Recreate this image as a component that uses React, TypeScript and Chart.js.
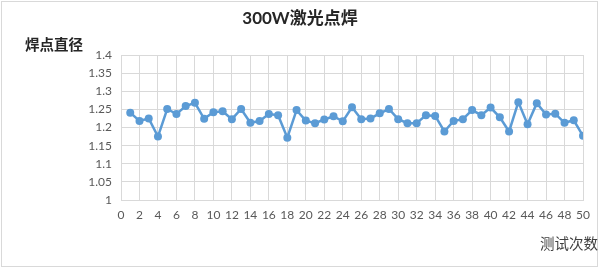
import React, { useEffect, useRef } from "react";
import { Chart, registerables } from "chart.js";

Chart.register(...registerables);

const chartTitle = "300W激光点焊";
const yAxisTitle = "焊点直径";
const xAxisTitle = "测试次数";

const diameters = [
  1.241, 1.218, 1.225, 1.175, 1.251, 1.237, 1.259, 1.268, 1.224, 1.242,
  1.245, 1.223, 1.251, 1.213, 1.218, 1.237, 1.234, 1.172, 1.248, 1.219,
  1.212, 1.222, 1.231, 1.217, 1.256, 1.223, 1.225, 1.239, 1.251, 1.223,
  1.212, 1.212, 1.234, 1.232, 1.189, 1.218, 1.223, 1.248, 1.234, 1.255,
  1.228, 1.189, 1.270, 1.209, 1.267, 1.236, 1.238, 1.213, 1.220, 1.177,
];
const testNumbers = diameters.map((_, i) => i + 1);

const xMin = 0;
const xMax = 50;
const xStep = 2;
const yMin = 1;
const yMax = 1.4;
const yStep = 0.05;

const FONT_LATIN = "Lato, 'Noto Sans', sans-serif";
const FONT_CJK = "'Noto Sans CJK SC', 'Noto Sans', sans-serif";

export default function App() {
  const ref = useRef<HTMLCanvasElement | null>(null);

  useEffect(() => {
    document.body.style.margin = "0";
    const canvas = ref.current;
    if (!canvas) return;

    const decor = {
      id: "decor",
      beforeDraw(chart: any) {
        const ctx = chart.ctx;
        ctx.save();
        ctx.fillStyle = "#ffffff";
        ctx.fillRect(0, 0, chart.width, chart.height);
        ctx.strokeStyle = "#d9d9d9";
        ctx.lineWidth = 1;
        ctx.strokeRect(1.5, 1.5, 596, 265);
        ctx.restore();
      },
      afterDraw(chart: any) {
        const ctx = chart.ctx;
        ctx.save();
        ctx.textBaseline = "middle";
        ctx.fillStyle = "#262626";
        ctx.textAlign = "center";
        ctx.font = `bold 17px ${FONT_LATIN.replace("Lato", "Lato, 'Noto Sans CJK SC'")}`;
        ctx.font = `bold 17px Lato, 'Noto Sans CJK SC', sans-serif`;
        ctx.fillText(chartTitle, 300, 19);
        ctx.textAlign = "left";
        ctx.font = `bold 14.5px ${FONT_CJK}`;
        ctx.fillStyle = "#262626";
        ctx.fillText(yAxisTitle, 25, 44);
        ctx.textAlign = "right";
        ctx.font = `14.5px ${FONT_CJK}`;
        ctx.fillStyle = "#404040";
        ctx.fillText(xAxisTitle, 598, 243);
        ctx.restore();
      },
    };

    const chart = new Chart(canvas, {
      type: "line",
      data: {
        datasets: [
          {
            data: testNumbers.map((n, i) => ({ x: n, y: diameters[i] })),
            borderColor: "#5b9bd5",
            backgroundColor: "#5b9bd5",
            borderWidth: 2.5,
            pointRadius: 4,
            pointBorderWidth: 0,
            pointBackgroundColor: "#5b9bd5",
            tension: 0,
          },
        ],
      },
      options: {
        responsive: false,
        animation: false,
        devicePixelRatio: 1,
        layout: { padding: { top: 55, right: 17, left: 0, bottom: 0 } },
        plugins: {
          legend: { display: false },
          title: { display: false },
          tooltip: { enabled: false },
        },
        scales: {
          x: {
            type: "linear",
            min: xMin,
            max: xMax,
            ticks: {
              stepSize: xStep,
              color: "#595959",
              font: { size: 12, family: FONT_LATIN },
              padding: 8,
              maxRotation: 0,
              autoSkip: false,
            },
            grid: { color: "#d9d9d9", lineWidth: 1, drawTicks: false },
            border: { color: "#d9d9d9" },
            afterFit(scale: any) {
              scale.height = 69;
            },
          },
          y: {
            min: yMin,
            max: yMax,
            ticks: {
              stepSize: yStep,
              color: "#595959",
              font: { size: 12, family: FONT_LATIN },
              padding: 9,
              callback: (v: any) => String(+Number(v).toFixed(2)),
            },
            grid: { color: "#d9d9d9", lineWidth: 1, drawTicks: false },
            border: { color: "#d9d9d9" },
            afterFit(scale: any) {
              scale.width = 121;
            },
          },
        },
      },
      plugins: [decor],
    });

    return () => chart.destroy();
  }, []);

  return (
    <div style={{ width: 600, height: 269 }}>
      <canvas ref={ref} width={600} height={269} style={{ display: "block" }} />
    </div>
  );
}
